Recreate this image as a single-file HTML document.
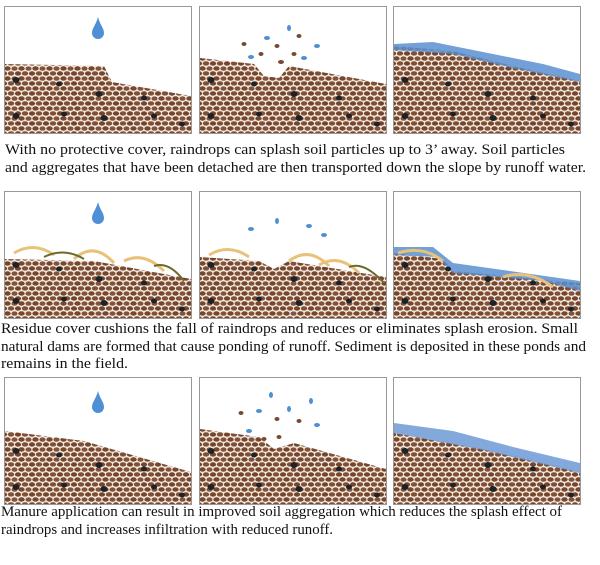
<!DOCTYPE html>
<html><head><meta charset="utf-8"><style>
html,body{margin:0;padding:0;background:#fff;width:600px;height:565px;overflow:hidden}
svg{display:block}
text{font-family:"Liberation Serif",serif;font-size:15px;fill:#111}
</style></head><body>
<svg width="600" height="565" viewBox="0 0 600 565" xmlns="http://www.w3.org/2000/svg">
<defs>
<pattern id="soil" width="14" height="10" patternUnits="userSpaceOnUse">
<rect width="14" height="10" fill="#f2e8de"/>
<ellipse cx="3.5" cy="2.5" rx="3.2" ry="2.2" fill="#76472d"/>
<ellipse cx="10.5" cy="2.6" rx="3" ry="2.2" fill="#82523a"/>
<ellipse cx="0" cy="7.5" rx="3.1" ry="2.2" fill="#74452c"/>
<ellipse cx="7" cy="7.4" rx="3.2" ry="2.2" fill="#7f5036"/>
<ellipse cx="14" cy="7.5" rx="3.1" ry="2.2" fill="#74452c"/>
</pattern>
<g id="drop"><path d="M0,-14 C2,-6 6,-3 6,2 A6,6 0 0 1 -6,2 C-6,-3 -2,-6 0,-14Z" fill="#4f8fd6"/></g>
<g id="stones" fill="#1d2226">
<ellipse cx="12" cy="74" rx="3.5" ry="3"/><ellipse cx="55" cy="78" rx="3" ry="2.5"/>
<ellipse cx="95" cy="88" rx="3.5" ry="3"/><ellipse cx="140" cy="92" rx="3" ry="2.5"/>
<ellipse cx="12" cy="110" rx="3.5" ry="3"/><ellipse cx="60" cy="108" rx="3" ry="2.5"/>
<ellipse cx="100" cy="112" rx="3.5" ry="3"/><ellipse cx="150" cy="110" rx="3" ry="2.5"/>
<ellipse cx="178" cy="118" rx="3" ry="2.5"/>
</g>
</defs>

<!-- Row 1 -->
<g transform="translate(4,6)">
<rect x="0.5" y="0.5" width="187" height="127" fill="#fff" stroke="#999"/>
<path d="M1,58 L100,60 L108,76 L187,90 L187,127 L1,127Z" fill="url(#soil)"/>
<use href="#stones"/>
<use href="#drop" transform="translate(94,25)"/>
</g>
<g transform="translate(199,6)">
<rect x="0.5" y="0.5" width="187" height="127" fill="#fff" stroke="#999"/>
<path d="M1,52 L55,58 L65,70 L80,72 L90,60 L187,78 L187,127 L1,127Z" fill="url(#soil)"/>
<use href="#stones"/>
<g fill="#4f8fd6"><ellipse cx="68" cy="32" rx="3" ry="2"/><ellipse cx="52" cy="51" rx="3" ry="2"/><ellipse cx="105" cy="52" rx="3" ry="2"/><ellipse cx="118" cy="40" rx="3" ry="2"/><ellipse cx="90" cy="22" rx="2" ry="3"/></g>
<g fill="#7a4a30"><ellipse cx="45" cy="38" rx="2.5" ry="2"/><ellipse cx="78" cy="40" rx="2.5" ry="2"/><ellipse cx="82" cy="56" rx="3" ry="2"/><ellipse cx="95" cy="48" rx="2.5" ry="2"/><ellipse cx="100" cy="30" rx="2.5" ry="2"/><ellipse cx="62" cy="48" rx="2.5" ry="2"/></g>
</g>
<g transform="translate(393,6)">
<rect x="0.5" y="0.5" width="187" height="127" fill="#fff" stroke="#999"/>
<path d="M1,40 L60,45 L120,60 L187,75 L187,127 L1,127Z" fill="url(#soil)"/>
<path d="M1,38 L40,36 L90,46 L150,58 L187,68 L187,76 L120,62 L60,48 L1,44Z" fill="#5b8fd0" opacity="0.85"/>
<use href="#stones"/>
</g>
<text x="5" y="154" textLength="560" lengthAdjust="spacingAndGlyphs">With no protective cover, raindrops can splash soil particles up to 3’ away.  Soil particles</text>
<text x="5" y="172" textLength="581" lengthAdjust="spacingAndGlyphs">and aggregates that have been detached are then transported down the slope by runoff water.</text>

<!-- Row 2 -->
<g transform="translate(4,191)">
<rect x="0.5" y="0.5" width="187" height="127" fill="#fff" stroke="#999"/>
<path d="M1,68 L90,70 L187,88 L187,127 L1,127Z" fill="url(#soil)"/>
<use href="#stones"/>
<g fill="none" stroke="#e8c27a" stroke-width="3"><path d="M10,62 Q30,50 50,64"/><path d="M70,68 Q90,50 110,72"/><path d="M120,70 Q140,60 160,80"/></g>
<g fill="none" stroke="#6a6a2a" stroke-width="2"><path d="M40,66 Q60,56 80,68"/><path d="M150,75 Q165,70 180,90"/></g>
<use href="#drop" transform="translate(94,25)"/>
</g>
<g transform="translate(199,191)">
<rect x="0.5" y="0.5" width="187" height="127" fill="#fff" stroke="#999"/>
<path d="M1,66 L60,70 L75,78 L90,70 L187,86 L187,127 L1,127Z" fill="url(#soil)"/>
<use href="#stones"/>
<g fill="none" stroke="#e8c27a" stroke-width="3"><path d="M10,64 Q30,52 50,66"/><path d="M90,70 Q110,55 130,75"/><path d="M120,74 Q140,62 160,82"/></g>
<g fill="none" stroke="#6a6a2a" stroke-width="2"><path d="M150,76 Q165,70 185,92"/></g>
<g fill="#4f8fd6"><ellipse cx="52" cy="38" rx="3" ry="2"/><ellipse cx="78" cy="30" rx="2" ry="3"/><ellipse cx="110" cy="35" rx="3" ry="2"/><ellipse cx="125" cy="44" rx="3" ry="2"/></g>
</g>
<g transform="translate(393,191)">
<rect x="0.5" y="0.5" width="187" height="127" fill="#fff" stroke="#999"/>
<path d="M1,62 L50,68 L60,80 L187,92 L187,127 L1,127Z" fill="url(#soil)"/>
<path d="M1,56 L40,56 L60,72 L187,90 L187,100 L150,90 L60,82 L45,66 L1,64Z" fill="#5b8fd0" opacity="0.85"/>
<g fill="none" stroke="#e8c27a" stroke-width="3"><path d="M5,62 Q30,54 50,70"/><path d="M110,86 Q135,78 160,96"/></g>
<use href="#stones"/>
</g>
<text x="1" y="333" textLength="577" lengthAdjust="spacingAndGlyphs">Residue  cover cushions the fall of raindrops and reduces or eliminates splash erosion.  Small</text>
<text x="1" y="351" textLength="585" lengthAdjust="spacingAndGlyphs">natural dams are formed that cause ponding of runoff.  Sediment is deposited in these ponds and</text>
<text x="1" y="368" textLength="127" lengthAdjust="spacingAndGlyphs">remains in the field.</text>

<!-- Row 3 -->
<g transform="translate(4,377)">
<rect x="0.5" y="0.5" width="187" height="127" fill="#fff" stroke="#999"/>
<path d="M1,54 L80,64 L187,95 L187,127 L1,127Z" fill="url(#soil)"/>
<use href="#stones"/>
<use href="#drop" transform="translate(94,28)"/>
</g>
<g transform="translate(199,377)">
<rect x="0.5" y="0.5" width="187" height="127" fill="#fff" stroke="#999"/>
<path d="M1,52 L60,60 L75,72 L95,66 L187,92 L187,127 L1,127Z" fill="url(#soil)"/>
<use href="#stones"/>
<g fill="#4f8fd6"><ellipse cx="72" cy="18" rx="2" ry="3"/><ellipse cx="60" cy="34" rx="3" ry="2"/><ellipse cx="90" cy="32" rx="2" ry="3"/><ellipse cx="112" cy="24" rx="2" ry="3"/><ellipse cx="118" cy="48" rx="3" ry="2"/><ellipse cx="50" cy="54" rx="3" ry="2"/></g>
<g fill="#7a4a30"><ellipse cx="42" cy="36" rx="2.5" ry="2"/><ellipse cx="78" cy="42" rx="2.5" ry="2"/><ellipse cx="100" cy="44" rx="2.5" ry="2"/><ellipse cx="80" cy="60" rx="2.5" ry="2"/><ellipse cx="65" cy="62" rx="2.5" ry="2"/></g>
</g>
<g transform="translate(393,377)">
<rect x="0.5" y="0.5" width="187" height="127" fill="#fff" stroke="#999"/>
<path d="M1,56 L90,72 L187,95 L187,127 L1,127Z" fill="url(#soil)"/>
<path d="M1,46 L60,54 L120,70 L187,86 L187,96 L90,73 L1,56Z" fill="#6d9ad6" opacity="0.85"/>
<use href="#stones"/>
</g>
<text x="1" y="516" textLength="561" lengthAdjust="spacingAndGlyphs">Manure application can result in improved soil aggregation which reduces the splash effect of</text>
<text x="1" y="534" textLength="332" lengthAdjust="spacingAndGlyphs">raindrops and increases infiltration with reduced runoff.</text>
</svg>
</body></html>
